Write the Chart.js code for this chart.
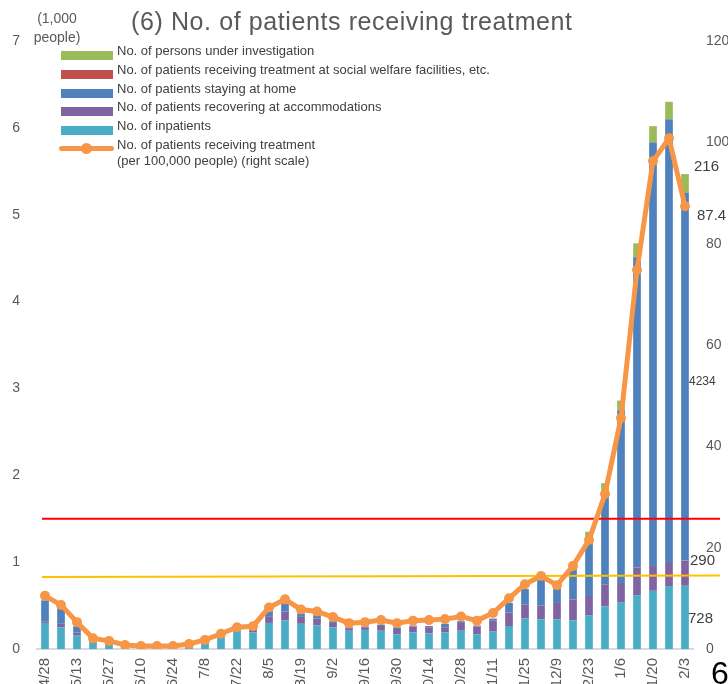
<!DOCTYPE html>
<html>
<head>
<meta charset="utf-8">
<script src="https://cdn.jsdelivr.net/npm/chart.js@4.4.1/dist/chart.umd.min.js"></script>
<style>
    html, body { margin: 0; padding: 0; overflow: hidden; background: #fff; }
    #wrap { position: relative; width: 750px; height: 712px; font-family: "Liberation Sans", Arial, sans-serif; }
    #myChart { position: absolute; left: 0; top: 0; }
    .txt { position: absolute; white-space: nowrap; color: #404040; }
    .swatch { position: absolute; width: 52px; height: 9px; }
</style>
</head>
<body>
<div id="wrap">
    <canvas id="myChart" width="750" height="712"></canvas>
    <div class="txt" id="title" style="left:131px; top:6px; font-size:25px; line-height:30px; letter-spacing:0.6px; color:#595959;">(6) No. of patients receiving treatment</div>
    <div class="txt" style="left:27px; top:9px; width:60px; text-align:center; font-size:14px; line-height:19px; color:#595959;">(1,000<br>people)</div>
    <div id="legend"></div>
    <div id="notes"></div>
    <div class="txt" style="left:711px; top:655px; font-size:32px; line-height:36px; color:#000;">6</div>
</div>
<script>
const dateList = ['4/28', '5/6', '5/13', '5/20', '5/27', '6/3', '6/10', '6/17', '6/24', '7/1',
    '7/8', '7/15', '7/22', '7/29', '8/5', '8/12', '8/19', '8/26', '9/2', '9/9',
    '9/16', '9/23', '9/30', '10/7', '10/14', '10/21', '10/28', '11/4', '11/11', '11/18',
    '11/25', '12/2', '12/9', '12/16', '12/23', '12/30', '1/6', '1/13', '1/20', '1/27', '2/3']

// thousands of people (left scale)
const inpatients = [0.30, 0.25, 0.16, 0.09, 0.05, 0.03, 0.02, 0.02, 0.02, 0.03,
    0.06, 0.13, 0.21, 0.19, 0.30, 0.33, 0.29, 0.27, 0.25, 0.21,
    0.22, 0.21, 0.17, 0.19, 0.18, 0.19, 0.21, 0.17, 0.20, 0.265,
    0.35, 0.34, 0.34, 0.33, 0.39, 0.49, 0.54, 0.62, 0.67, 0.725, 0.728]
const accommodations = [0.02, 0.04, 0.03, 0.01, 0.005, 0, 0, 0, 0, 0,
    0, 0, 0.01, 0.04, 0.07, 0.10, 0.08, 0.08, 0.05, 0.03,
    0.03, 0.055, 0.06, 0.07, 0.07, 0.06, 0.09, 0.09, 0.13, 0.155,
    0.16, 0.16, 0.19, 0.24, 0.22, 0.255, 0.22, 0.32, 0.285, 0.265, 0.29]
const stayingHome = [0.24, 0.18, 0.07, 0.03, 0.01, 0.01, 0.005, 0.005, 0.005, 0.005,
    0.01, 0.01, 0.02, 0.02, 0.07, 0.10, 0.04, 0.04, 0.02, 0.01,
    0.01, 0.015, 0.02, 0.01, 0.015, 0.04, 0.02, 0.01, 0.02, 0.11,
    0.18, 0.36, 0.17, 0.415, 0.68, 1.065, 1.99, 3.57, 4.875, 5.11, 4.234]
const welfare = [0, 0, 0, 0, 0, 0, 0, 0, 0, 0,
    0, 0, 0, 0, 0, 0, 0, 0, 0, 0,
    0, 0, 0, 0, 0, 0, 0, 0, 0, 0,
    0, 0, 0, 0, 0, 0, 0, 0, 0, 0, 0]
const investigation = [0, 0, 0, 0, 0, 0, 0, 0, 0, 0,
    0, 0, 0, 0, 0, 0, 0, 0, 0, 0,
    0, 0, 0, 0, 0, 0, 0, 0, 0, 0,
    0, 0.02, 0.01, 0.01, 0.06, 0.10, 0.11, 0.16, 0.19, 0.20, 0.216]

// per 100,000 people (right scale)
const per100k = [10.5, 8.7, 5.3, 2.1, 1.6, 0.8, 0.6, 0.6, 0.6, 1.0,
    1.8, 3.0, 4.3, 4.5, 8.2, 9.8, 7.8, 7.4, 6.3, 5.1,
    5.3, 5.7, 5.1, 5.6, 5.7, 5.9, 6.4, 5.6, 7.1, 10.0,
    12.8, 14.4, 12.6, 16.4, 21.5, 30.6, 45.6, 74.8, 96.3, 100.8, 87.4]

const leftTicks = [0, 7, 1]
const rightTicks = [0, 120, 20]

// horizontal guide lines on the left scale (start value, end value)
const refLines = [
    { from: 1.5, to: 1.5, color: '#FF0000' },
    { from: 0.83, to: 0.845, color: '#FFC000' }
]

const fontFamily = '"Liberation Sans", Arial, sans-serif'
const tickColor = '#595959'

const barSet = (label, data, color) => ({
    type: 'bar', label, data, backgroundColor: color, borderWidth: 0,
    yAxisID: 'y', stack: 's', order: 1, barPercentage: 0.48, categoryPercentage: 1
})

const datasets = [
    barSet('No. of inpatients', inpatients, '#4BACC6'),
    barSet('No. of patients recovering at accommodations', accommodations, '#8064A2'),
    barSet('No. of patients staying at home', stayingHome, '#4F81BD'),
    barSet('No. of patients receiving treatment at social welfare facilities, etc.', welfare, '#C0504D'),
    barSet('No. of persons under investigation', investigation, '#9BBB59'),
    {
        type: 'line', label: 'No. of patients receiving treatment\n(per 100,000 people) (right scale)',
        data: per100k, yAxisID: 'y1', order: 0,
        borderColor: '#F79646', borderWidth: 5, pointRadius: 5,
        pointBackgroundColor: '#F79646', pointBorderWidth: 0, tension: 0
    }
]

// Guide lines go in right before the orange line, so the line stays on top
const refLinePlugin = {
    id: 'refLines',
    beforeDatasetDraw(chart, args) {
        if (args.index !== 5) return
        const { ctx, chartArea, scales } = chart
        refLines.forEach(r => {
            ctx.save()
            ctx.strokeStyle = r.color
            ctx.lineWidth = 2
            ctx.beginPath()
            ctx.moveTo(chartArea.left + 5, scales.y.getPixelForValue(r.from))
            ctx.lineTo(chartArea.right + 27, scales.y.getPixelForValue(r.to))
            ctx.stroke()
            ctx.restore()
        })
    }
}

const ctx = document.getElementById('myChart').getContext('2d')

const myChart = new Chart(ctx, {
    data: { labels: dateList, datasets: datasets },
    options: {
        responsive: false,
        animation: false,
        devicePixelRatio: 1,
        layout: { padding: { top: 41, left: 0, right: 0, bottom: 0 } },
        plugins: {
            legend: { display: false },
            title: { display: false },
            tooltip: { enabled: false }
        },
        scales: {
            x: {
                stacked: true,
                grid: { display: false, drawTicks: false },
                border: { display: true, color: '#D9D9D9', width: 2 },
                ticks: {
                    autoSkip: false, minRotation: 90, maxRotation: 90, padding: 9,
                    color: tickColor, font: { size: 15, family: fontFamily },
                    callback: (value, index) => index % 2 === 0 ? dateList[index] : ''
                },
                afterFit: (scale) => { scale.height = 63 }
            },
            y: {
                stacked: true, position: 'left',
                min: leftTicks[0], max: leftTicks[1],
                grid: { display: false, drawTicks: false },
                border: { display: false },
                ticks: { stepSize: leftTicks[2], padding: 17, color: tickColor, font: { size: 14, family: fontFamily } },
                afterFit: (scale) => { scale.width = 37 }
            },
            y1: {
                position: 'right',
                min: rightTicks[0], max: rightTicks[1],
                grid: { display: false, drawTicks: false },
                border: { display: false },
                ticks: { stepSize: rightTicks[2], padding: 13, color: tickColor, font: { size: 14, family: fontFamily } },
                afterFit: (scale) => { scale.width = 57 }
            }
        }
    },
    plugins: [refLinePlugin]
})

// Legend, listed top to bottom the way the reference shows it
const legendTops = [51, 70, 89, 107, 126]
const legendBox = document.getElementById('legend')
const barOrder = [4, 3, 2, 1, 0]
barOrder.forEach((dsIndex, i) => {
    const ds = datasets[dsIndex]
    legendBox.innerHTML += `<div class="swatch" style="left:61px; top:${legendTops[i]}px; background:${ds.backgroundColor}"></div>`
    legendBox.innerHTML += `<div class="txt" style="left:117px; top:${legendTops[i] - 8}px; font-size:13px; line-height:16px;">${ds.label}</div>`
})
const lineDs = datasets[5]
legendBox.innerHTML += `<div style="position:absolute; left:59px; top:146px; width:55px; height:5px; border-radius:3px; background:${lineDs.borderColor}"></div>`
legendBox.innerHTML += `<div style="position:absolute; left:81px; top:143px; width:11px; height:11px; border-radius:50%; background:${lineDs.borderColor}"></div>`
legendBox.innerHTML += `<div class="txt" style="left:117px; top:137px; font-size:13px; line-height:16px;">${lineDs.label.replace('\n', '<br>')}</div>`

// Value notes from the last week, as they sit at the right edge of the reference
const last = dateList.length - 1
const notes = [
    { text: Math.round(investigation[last] * 1000), left: 694, top: 158, size: 15 },
    { text: per100k[last].toFixed(1), left: 697, top: 207, size: 15 },
    { text: Math.round(stayingHome[last] * 1000), left: 689, top: 373, size: 12 },
    { text: Math.round(accommodations[last] * 1000), left: 690, top: 552, size: 15 },
    { text: Math.round(inpatients[last] * 1000), left: 688, top: 610, size: 15 }
]
const notesBox = document.getElementById('notes')
notes.forEach(n => {
    notesBox.innerHTML += `<div class="txt" style="left:${n.left}px; top:${n.top}px; font-size:${n.size}px; line-height:16px;">${n.text}</div>`
})
</script>
</body>
</html>
